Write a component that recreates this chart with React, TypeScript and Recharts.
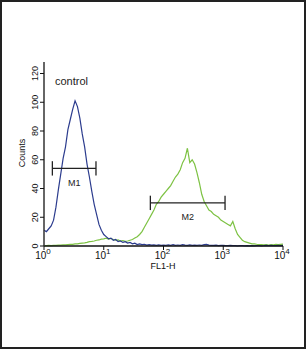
import React from 'react';
import { LineChart, Line, XAxis, YAxis, ReferenceLine, ReferenceDot } from 'recharts';

// channel position in decades (log10 of FL1-H)
const channel = Array.from({ length: 101 }, (_, i) => +(i * 0.04).toFixed(2));

const controlCounts = [
  11, 10, 12, 14, 18, 27, 39, 50, 61, 69,
  81, 88, 95, 101, 97, 89, 78, 69, 57, 48,
  38, 29, 22, 15, 11, 8, 6.5, 5, 5.5, 4,
  4.5, 3, 3.5, 2.5, 3, 2, 2.5, 1.5, 2, 1,
  1.5, 1, 1.2, 0.6, 1, 0.6, 0.8, 0.5, 0.8, 0.5,
  0.6, 0.4, 0.8, 0.5, 0.9, 0.4, 0.7, 0.5, 1, 0.6,
  0.4, 0.8, 0.5, 0.6, 0.4, 0.7, 0.5, 0.9, 1.1, 0.6,
  0.5, 0.4, 0.6, 0.3, 0.5, 0.4, 0.3, 0.2, 0.4, 0.2,
  0.3, 0.1, 0.2, 0.3, 0.1, 0.2, 0.1, 0.2, 0.1, 0.2,
  0.3, 0.1, 0.2, 0.4, 0.3, 0.5, 0.3, 0.2, 0.4, 0.3,
  0.5,
];

const sampleCounts = [
  0.3, 0.3, 0.4, 0.3, 0.5, 0.5, 0.6, 0.6, 0.8, 0.8,
  1, 1.2, 1.2, 1.5, 1.5, 1.8, 2, 2.2, 2.5, 3,
  3.2, 3.5, 4, 4.2, 4.8, 5, 5.5, 4.8, 5.2, 4.5,
  4, 4.2, 3.5, 3.8, 3.2, 3.5, 4, 4.5, 5.5, 6.5,
  8, 10, 13, 16, 19, 22, 25, 29, 31, 34,
  36, 38, 40, 42, 45, 48, 50, 53, 58, 61,
  68, 58, 60, 57, 51, 44, 36, 31, 28, 25,
  24, 22, 21, 20, 18, 17, 16, 15, 14, 17,
  12, 8, 6, 4, 3, 2.5, 2, 1.5, 1.5, 1.2,
  1, 1, 0.8, 0.9, 0.7, 1, 0.8, 1.2, 0.9, 1.1,
  1.3,
];

const decades = [0, 1, 2, 3, 4];
const countTicks = [0, 20, 40, 60, 80, 100, 120];
const minorCountTicks = [4, 8, 12, 16, 24, 28, 32, 36, 44, 48, 52, 56, 64, 68, 72, 76, 84, 88, 92, 96, 104, 108, 112, 116, 124];
const minorDecadeTicks = [0, 1, 2, 3].flatMap((d) => [2, 3, 4, 5, 6, 7, 8, 9].map((k) => d + Math.log10(k)));

const gates = [
  { name: 'M1', from: 0.14, to: 0.87, level: 54 },
  { name: 'M2', from: 1.78, to: 3.03, level: 30 },
];

const data = channel.map((x, i) => ({ x, control: controlCounts[i], sample: sampleCounts[i] }));

const font = 'Liberation Sans, Arial, sans-serif';

const DecadeTick = (props: any) => {
  const { x, y, payload } = props;
  return (
    <text x={x - 1} y={y + 7} textAnchor="middle" fontSize={10} fontFamily={font} fill="#111">
      <tspan>10</tspan>
      <tspan dy={-5} fontSize={8}>{payload.value}</tspan>
    </text>
  );
};

const CountTick = (props: any) => {
  const { x, y, payload } = props;
  return (
    <text x={x} y={y} transform={`rotate(-90, ${x}, ${y})`} textAnchor="middle" fontSize={9} fontFamily={font} fill="#111">
      {payload.value}
    </text>
  );
};

export default function App() {
  return (
    <div style={{ position: 'fixed', left: 0, top: 0, width: 306, height: 349, boxSizing: 'border-box', border: '2px solid #222', background: '#fff' }}>
      <div style={{ position: 'absolute', left: -2, top: -2 }}>
        <LineChart width={306} height={349} data={data} margin={{ top: 62, right: 23, left: 24, bottom: 73 }}>
          <XAxis xAxisId="minor" dataKey="x" type="number" domain={[0, 4]} ticks={minorDecadeTicks} tick={false} tickSize={3} mirror height={0} axisLine={false} tickLine={{ stroke: '#222' }} />
          <XAxis dataKey="x" type="number" domain={[0, 4]} ticks={decades} tick={<DecadeTick />} tickSize={4} height={30} axisLine={{ stroke: '#111', strokeWidth: 1.5 }} tickLine={{ stroke: '#111' }} />
          <XAxis xAxisId="top" dataKey="x" type="number" domain={[0, 4]} orientation="top" tick={false} tickLine={false} height={0} axisLine={{ stroke: '#666', strokeWidth: 1.5 }} />
          <YAxis yAxisId="minor" type="number" domain={[0, 128]} ticks={minorCountTicks} tick={false} tickSize={2} width={0} axisLine={false} tickLine={{ stroke: '#222' }} />
          <YAxis type="number" domain={[0, 128]} ticks={countTicks} tick={<CountTick />} tickSize={4} tickMargin={2} width={20} axisLine={{ stroke: '#333', strokeWidth: 1.5 }} tickLine={{ stroke: '#111' }} />
          <YAxis yAxisId="right" type="number" domain={[0, 128]} orientation="right" tick={false} tickLine={false} width={0} axisLine={{ stroke: '#666', strokeWidth: 1.5 }} />
          <Line dataKey="sample" type="linear" stroke="#7dc243" strokeWidth={1.2} dot={false} isAnimationActive={false} />
          <Line dataKey="control" type="linear" stroke="#2c3c8e" strokeWidth={1.2} dot={false} isAnimationActive={false} />
          {gates.map((g) => (
            <ReferenceLine key={g.name} segment={[{ x: g.from, y: g.level }, { x: g.to, y: g.level }]} stroke="#222" strokeWidth={1.3} />
          ))}
          {gates.map((g) => (
            <ReferenceLine key={g.name + 'a'} segment={[{ x: g.from, y: g.level - 5 }, { x: g.from, y: g.level + 5 }]} stroke="#222" strokeWidth={1.3} />
          ))}
          {gates.map((g) => (
            <ReferenceLine key={g.name + 'b'} segment={[{ x: g.to, y: g.level - 5 }, { x: g.to, y: g.level + 5 }]} stroke="#222" strokeWidth={1.3} />
          ))}
          {gates.map((g) => (
            <ReferenceDot key={g.name + 'l'} x={(g.from + g.to) / 2} y={g.level - 10} r={0} fill="none" stroke="none"
              label={{ value: g.name, position: 'center', fontSize: 9, fontFamily: font, fill: '#222' }} />
          ))}
        </LineChart>
        <div style={{ position: 'absolute', left: 55, top: 75, fontFamily: font, fontSize: 11, color: '#222' }}>control</div>
        <div style={{ position: 'absolute', left: 22, top: 153, transform: 'translate(-50%, -50%) rotate(-90deg)', fontFamily: font, fontSize: 9, color: '#111' }}>Counts</div>
        <div style={{ position: 'absolute', left: 163, top: 262, transform: 'translateX(-50%)', fontFamily: font, fontSize: 9, lineHeight: '9px', color: '#111' }}>FL1-H</div>
      </div>
    </div>
  );
}
